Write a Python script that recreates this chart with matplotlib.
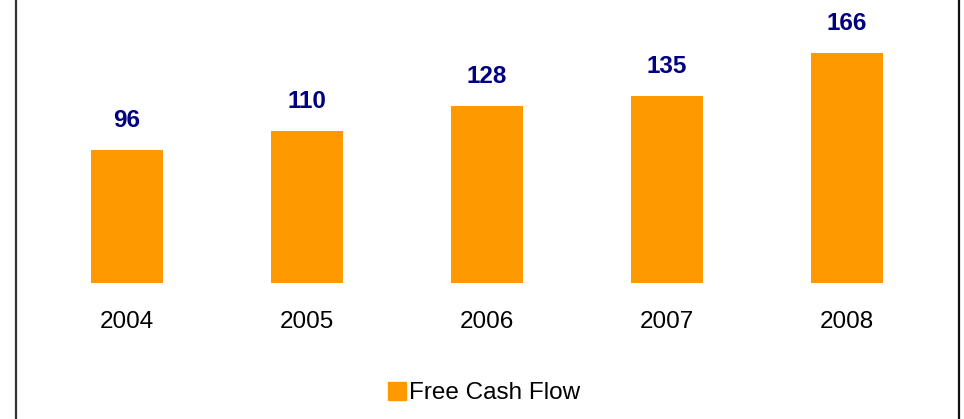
import matplotlib
matplotlib.use("Agg")
import matplotlib.pyplot as plt
from matplotlib.lines import Line2D
from matplotlib.patches import Patch

plt.rcParams['font.family'] = ['Liberation Sans', 'DejaVu Sans']

# data
years = ["2004", "2005", "2006", "2007", "2008"]
free_cash_flow = [96, 110, 128, 135, 166]

W, H = 964, 419
fig = plt.figure(figsize=(W / 100, H / 100), dpi=100)

# bar area: baseline at y=283px, 180px between bar centres
base_px = 283
px_per_unit = 230 / 166
ax = fig.add_axes([0, (H - base_px) / H, 1, base_px / H])
ax.set_xlim(-127 / 180, (W - 127) / 180)
ax.set_ylim(0, base_px / px_per_unit)

pos = list(range(len(years)))
bars = ax.bar(pos, free_cash_flow, width=0.4, color="#FF9900", label="Free Cash Flow")
ax.bar_label(bars, padding=13, fontsize=17.5, fontweight="bold", color="#000080")

ax.set_xticks(pos)
ax.set_xticklabels(years, fontsize=17.5)
ax.tick_params(axis="x", length=0, pad=20)
ax.set_yticks([])
for s in ax.spines.values():
    s.set_visible(False)
ax.patch.set_alpha(0)

# frame lines left and right
fig.add_artist(Line2D([16 / W, 16 / W], [0, 1], color="#333333", lw=1.6))
fig.add_artist(Line2D([959 / W, 959 / W], [0, 1], color="#111111", lw=1.6))

fig.legend(handles=[Patch(color="#FF9900", label="Free Cash Flow")],
           loc="center", bbox_to_anchor=(484 / W, 1 - 393 / H),
           frameon=False, fontsize=17.5, handlelength=0.75, handleheight=0.75,
           handletextpad=0.15)

fig.savefig("out.png", dpi=100)
